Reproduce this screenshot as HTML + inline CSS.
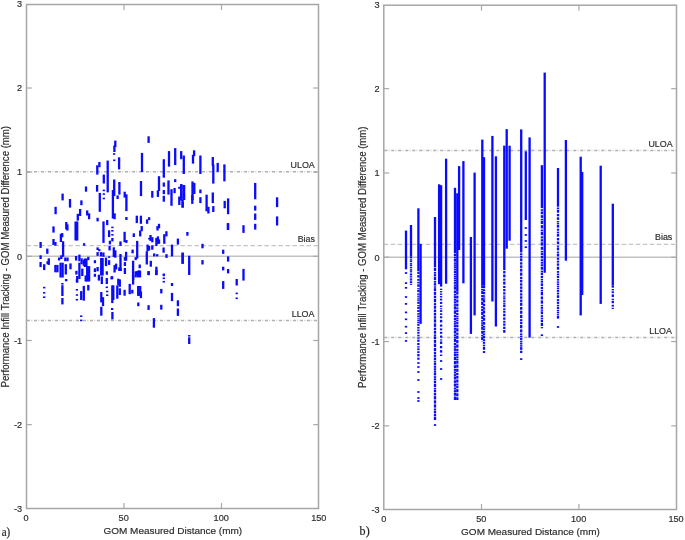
<!DOCTYPE html>
<html><head><meta charset="utf-8"><style>
html,body{margin:0;padding:0;background:#fff;}
svg{display:block;will-change:transform;}
text{font-family:"Liberation Sans", sans-serif;fill:#2e2e2e;stroke:#2e2e2e;stroke-width:0.18px;}
.t{font-size:8.7px;}
.u{font-size:8.45px;}
.xl{font-size:9.52px;}
.yl{font-size:9.6px;}
.pl{font-family:"Liberation Serif",serif;font-size:11.5px;fill:#222;}
</style></head><body>
<svg width="685" height="540" viewBox="0 0 685 540">
<rect width="685" height="540" fill="#fff"/>
<line x1="26.5" y1="256.33" x2="318.5" y2="256.33" stroke="#c2c2c2" stroke-width="1.5"/>
<line x1="26.5" y1="245.60" x2="318.5" y2="245.60" stroke="#c4c4c4" stroke-width="1.4" stroke-dasharray="4.4 2.6"/>
<line x1="26.5" y1="171.75" x2="318.5" y2="171.75" stroke="#b0b0b0" stroke-width="1.4" stroke-dasharray="0 0.4 3.1 3.5"/>
<line x1="26.5" y1="171.75" x2="318.5" y2="171.75" stroke="#d8d8d8" stroke-width="1.4" stroke-dasharray="0 4.5 1.3 1.2"/>
<line x1="26.5" y1="320.46" x2="318.5" y2="320.46" stroke="#b0b0b0" stroke-width="1.4" stroke-dasharray="0 0.4 3.1 3.5"/>
<line x1="26.5" y1="320.46" x2="318.5" y2="320.46" stroke="#d8d8d8" stroke-width="1.4" stroke-dasharray="0 4.5 1.3 1.2"/>
<g fill="#0a0aff">
<rect x="61.45" y="193.60" width="2.3" height="6.80"/>
<rect x="68.85" y="199.00" width="2.3" height="8.60"/>
<rect x="80.25" y="200.40" width="2.3" height="4.80"/>
<rect x="54.45" y="206.80" width="2.3" height="7.40"/>
<rect x="78.95" y="209.00" width="2.3" height="7.00"/>
<rect x="76.65" y="213.80" width="2.3" height="6.80"/>
<rect x="65.15" y="222.00" width="2.3" height="7.40"/>
<rect x="66.25" y="224.40" width="2.3" height="6.20"/>
<rect x="52.35" y="226.40" width="2.3" height="6.20"/>
<rect x="74.45" y="221.50" width="2.3" height="19.00"/>
<rect x="76.05" y="221.50" width="2.3" height="19.00"/>
<rect x="59.75" y="233.80" width="2.3" height="8.20"/>
<rect x="61.05" y="233.10" width="2.3" height="4.20"/>
<rect x="52.35" y="239.00" width="2.3" height="6.00"/>
<rect x="54.25" y="242.00" width="2.3" height="3.70"/>
<rect x="39.45" y="242.00" width="2.3" height="5.90"/>
<rect x="61.95" y="241.20" width="2.3" height="15.60"/>
<rect x="46.15" y="248.60" width="2.3" height="5.20"/>
<rect x="82.95" y="243.20" width="2.3" height="2.50"/>
<rect x="39.45" y="255.30" width="2.3" height="3.70"/>
<rect x="39.45" y="262.00" width="2.3" height="5.10"/>
<rect x="43.05" y="264.20" width="2.3" height="5.90"/>
<rect x="47.65" y="258.30" width="2.3" height="6.60"/>
<rect x="46.45" y="261.20" width="2.3" height="3.00"/>
<rect x="57.95" y="257.50" width="2.3" height="3.00"/>
<rect x="60.15" y="255.30" width="2.3" height="3.70"/>
<rect x="64.15" y="257.50" width="2.3" height="3.70"/>
<rect x="66.35" y="257.50" width="2.3" height="3.70"/>
<rect x="54.25" y="264.90" width="2.3" height="7.40"/>
<rect x="56.25" y="264.90" width="2.3" height="7.40"/>
<rect x="59.45" y="262.70" width="2.3" height="14.80"/>
<rect x="61.45" y="262.70" width="2.3" height="14.80"/>
<rect x="64.65" y="264.20" width="2.3" height="10.30"/>
<rect x="69.35" y="263.40" width="2.3" height="5.90"/>
<rect x="64.95" y="279.00" width="2.3" height="2.20"/>
<rect x="61.25" y="283.00" width="2.3" height="1.60"/>
<rect x="74.95" y="256.00" width="2.3" height="4.50"/>
<rect x="78.25" y="254.60" width="2.3" height="6.60"/>
<rect x="80.45" y="258.30" width="2.3" height="5.90"/>
<rect x="82.65" y="259.70" width="2.3" height="6.00"/>
<rect x="75.25" y="270.80" width="2.3" height="3.70"/>
<rect x="78.25" y="262.70" width="2.3" height="16.30"/>
<rect x="81.15" y="268.60" width="2.3" height="7.40"/>
<rect x="76.05" y="276.00" width="2.3" height="6.70"/>
<rect x="43.05" y="286.80" width="2.3" height="1.60"/>
<rect x="43.05" y="292.00" width="2.3" height="1.60"/>
<rect x="43.05" y="296.40" width="2.3" height="1.60"/>
<rect x="61.25" y="285.20" width="2.3" height="10.80"/>
<rect x="61.25" y="298.00" width="2.3" height="6.40"/>
<rect x="64.95" y="279.50" width="2.3" height="1.60"/>
<rect x="75.75" y="279.00" width="2.3" height="3.20"/>
<rect x="75.75" y="289.00" width="2.3" height="1.60"/>
<rect x="75.75" y="294.20" width="2.3" height="1.60"/>
<rect x="75.75" y="298.90" width="2.3" height="1.60"/>
<rect x="80.05" y="291.10" width="2.3" height="8.90"/>
<rect x="82.65" y="285.90" width="2.3" height="14.80"/>
<rect x="80.05" y="315.40" width="2.3" height="1.60"/>
<rect x="80.05" y="319.60" width="2.3" height="1.60"/>
<rect x="98.65" y="192.90" width="2.3" height="18.90"/>
<rect x="111.75" y="190.00" width="2.3" height="28.50"/>
<rect x="113.45" y="213.30" width="2.3" height="5.90"/>
<rect x="125.25" y="194.30" width="2.3" height="16.80"/>
<rect x="125.25" y="217.00" width="2.3" height="3.00"/>
<rect x="86.05" y="210.40" width="2.3" height="5.10"/>
<rect x="87.95" y="213.30" width="2.3" height="5.90"/>
<rect x="96.45" y="217.80" width="2.3" height="3.60"/>
<rect x="102.35" y="221.40" width="2.3" height="21.50"/>
<rect x="106.05" y="220.00" width="2.3" height="5.10"/>
<rect x="107.95" y="230.30" width="2.3" height="6.70"/>
<rect x="111.25" y="226.60" width="2.3" height="1.60"/>
<rect x="111.25" y="230.00" width="2.3" height="1.60"/>
<rect x="111.25" y="234.00" width="2.3" height="1.60"/>
<rect x="111.25" y="238.00" width="2.3" height="3.40"/>
<rect x="108.75" y="240.70" width="2.3" height="3.70"/>
<rect x="119.35" y="241.40" width="2.3" height="4.50"/>
<rect x="123.45" y="231.80" width="2.3" height="10.40"/>
<rect x="125.25" y="240.00" width="2.3" height="2.90"/>
<rect x="132.65" y="233.30" width="2.3" height="3.70"/>
<rect x="112.65" y="247.30" width="2.3" height="9.70"/>
<rect x="114.15" y="250.30" width="2.3" height="7.40"/>
<rect x="119.35" y="254.00" width="2.3" height="17.00"/>
<rect x="124.95" y="251.80" width="2.3" height="8.90"/>
<rect x="131.45" y="249.60" width="2.3" height="3.70"/>
<rect x="113.45" y="265.10" width="2.3" height="7.40"/>
<rect x="114.95" y="263.60" width="2.3" height="5.90"/>
<rect x="118.15" y="267.30" width="2.3" height="3.70"/>
<rect x="119.35" y="268.00" width="2.3" height="3.00"/>
<rect x="123.75" y="257.00" width="2.3" height="3.70"/>
<rect x="123.75" y="262.10" width="2.3" height="3.90"/>
<rect x="123.75" y="268.00" width="2.3" height="6.00"/>
<rect x="131.95" y="260.70" width="2.3" height="19.30"/>
<rect x="110.95" y="276.20" width="2.3" height="2.90"/>
<rect x="114.15" y="140.60" width="2.3" height="6.40"/>
<rect x="113.25" y="145.50" width="2.3" height="6.50"/>
<rect x="112.95" y="153.20" width="2.3" height="1.60"/>
<rect x="113.15" y="159.50" width="2.3" height="1.60"/>
<rect x="117.95" y="157.30" width="2.3" height="12.10"/>
<rect x="140.85" y="152.90" width="2.3" height="19.20"/>
<rect x="106.55" y="160.60" width="2.3" height="31.80"/>
<rect x="98.25" y="162.00" width="2.3" height="5.20"/>
<rect x="96.15" y="165.30" width="2.3" height="9.30"/>
<rect x="102.65" y="174.60" width="2.3" height="8.90"/>
<rect x="95.95" y="185.00" width="2.3" height="6.70"/>
<rect x="84.85" y="186.50" width="2.3" height="5.20"/>
<rect x="102.65" y="189.60" width="2.3" height="1.60"/>
<rect x="102.65" y="193.30" width="2.3" height="1.60"/>
<rect x="102.65" y="197.70" width="2.3" height="1.60"/>
<rect x="113.05" y="179.50" width="2.3" height="16.60"/>
<rect x="118.25" y="182.00" width="2.3" height="12.60"/>
<rect x="116.45" y="195.40" width="2.3" height="3.60"/>
<rect x="123.55" y="191.70" width="2.3" height="5.90"/>
<rect x="139.85" y="181.00" width="2.3" height="15.10"/>
<rect x="106.05" y="290.70" width="2.3" height="1.60"/>
<rect x="106.05" y="294.40" width="2.3" height="1.60"/>
<rect x="110.45" y="276.50" width="2.3" height="2.90"/>
<rect x="111.15" y="285.40" width="2.3" height="17.70"/>
<rect x="112.15" y="285.40" width="2.3" height="14.60"/>
<rect x="110.95" y="308.00" width="2.3" height="2.00"/>
<rect x="111.25" y="312.00" width="2.3" height="7.40"/>
<rect x="100.15" y="292.00" width="2.3" height="10.40"/>
<rect x="101.85" y="297.20" width="2.3" height="8.90"/>
<rect x="100.15" y="306.80" width="2.3" height="8.90"/>
<rect x="117.15" y="278.70" width="2.3" height="6.70"/>
<rect x="118.65" y="279.40" width="2.3" height="7.40"/>
<rect x="116.15" y="285.40" width="2.3" height="13.30"/>
<rect x="118.65" y="288.30" width="2.3" height="6.70"/>
<rect x="123.45" y="289.80" width="2.3" height="5.90"/>
<rect x="128.55" y="283.90" width="2.3" height="10.30"/>
<rect x="131.15" y="289.80" width="2.3" height="3.70"/>
<rect x="131.95" y="275.00" width="2.3" height="9.60"/>
<rect x="147.45" y="136.30" width="2.3" height="6.60"/>
<rect x="151.15" y="191.00" width="2.3" height="6.70"/>
<rect x="156.75" y="190.30" width="2.3" height="6.60"/>
<rect x="157.85" y="176.20" width="2.3" height="14.80"/>
<rect x="162.65" y="159.20" width="2.3" height="18.50"/>
<rect x="162.65" y="182.50" width="2.3" height="4.20"/>
<rect x="162.65" y="190.00" width="2.3" height="4.20"/>
<rect x="162.65" y="195.80" width="2.3" height="4.20"/>
<rect x="167.85" y="151.10" width="2.3" height="15.50"/>
<rect x="167.35" y="180.40" width="2.3" height="14.20"/>
<rect x="174.05" y="148.10" width="2.3" height="17.00"/>
<rect x="174.05" y="179.20" width="2.3" height="2.90"/>
<rect x="173.45" y="188.00" width="2.3" height="5.20"/>
<rect x="180.05" y="151.10" width="2.3" height="8.10"/>
<rect x="182.65" y="155.50" width="2.3" height="18.50"/>
<rect x="178.15" y="186.80" width="2.3" height="2.00"/>
<rect x="178.15" y="196.50" width="2.3" height="8.50"/>
<rect x="180.35" y="184.20" width="2.3" height="16.60"/>
<rect x="182.75" y="185.00" width="2.3" height="3.80"/>
<rect x="182.75" y="193.30" width="2.3" height="6.30"/>
<rect x="162.65" y="200.00" width="2.3" height="1.70"/>
<rect x="170.35" y="189.20" width="2.3" height="16.60"/>
<rect x="181.45" y="200.00" width="2.3" height="7.60"/>
<rect x="135.65" y="215.70" width="2.3" height="7.40"/>
<rect x="139.75" y="215.70" width="2.3" height="8.10"/>
<rect x="145.95" y="219.40" width="2.3" height="4.40"/>
<rect x="147.95" y="217.20" width="2.3" height="2.90"/>
<rect x="140.55" y="226.10" width="2.3" height="5.10"/>
<rect x="139.05" y="230.50" width="2.3" height="5.90"/>
<rect x="156.35" y="226.10" width="2.3" height="4.40"/>
<rect x="157.85" y="223.80" width="2.3" height="4.50"/>
<rect x="165.25" y="231.20" width="2.3" height="5.20"/>
<rect x="163.15" y="234.20" width="2.3" height="9.60"/>
<rect x="149.35" y="235.00" width="2.3" height="5.90"/>
<rect x="148.15" y="237.90" width="2.3" height="1.60"/>
<rect x="151.15" y="237.20" width="2.3" height="5.10"/>
<rect x="155.25" y="237.90" width="2.3" height="8.10"/>
<rect x="156.75" y="236.40" width="2.3" height="7.40"/>
<rect x="157.85" y="239.40" width="2.3" height="4.40"/>
<rect x="176.75" y="238.60" width="2.3" height="6.00"/>
<rect x="136.05" y="240.90" width="2.3" height="17.70"/>
<rect x="146.45" y="244.60" width="2.3" height="6.60"/>
<rect x="147.95" y="246.00" width="2.3" height="4.50"/>
<rect x="151.15" y="245.30" width="2.3" height="4.40"/>
<rect x="162.45" y="247.50" width="2.3" height="5.20"/>
<rect x="170.85" y="244.60" width="2.3" height="11.80"/>
<rect x="145.65" y="251.20" width="2.3" height="13.30"/>
<rect x="153.05" y="253.40" width="2.3" height="3.00"/>
<rect x="156.05" y="254.20" width="2.3" height="2.20"/>
<rect x="165.35" y="254.20" width="2.3" height="3.70"/>
<rect x="181.45" y="252.70" width="2.3" height="11.10"/>
<rect x="134.55" y="257.10" width="2.3" height="3.00"/>
<rect x="149.65" y="260.80" width="2.3" height="5.90"/>
<rect x="138.55" y="264.50" width="2.3" height="3.70"/>
<rect x="155.25" y="266.70" width="2.3" height="8.30"/>
<rect x="135.35" y="271.20" width="2.3" height="3.80"/>
<rect x="137.95" y="270.40" width="2.3" height="4.60"/>
<rect x="147.45" y="271.20" width="2.3" height="3.80"/>
<rect x="162.65" y="273.50" width="2.3" height="1.60"/>
<rect x="134.55" y="271.50" width="2.3" height="5.90"/>
<rect x="136.85" y="270.70" width="2.3" height="6.70"/>
<rect x="138.85" y="270.70" width="2.3" height="6.70"/>
<rect x="147.45" y="271.20" width="2.3" height="4.00"/>
<rect x="155.25" y="270.00" width="2.3" height="5.20"/>
<rect x="162.65" y="274.60" width="2.3" height="1.60"/>
<rect x="162.65" y="277.50" width="2.3" height="1.60"/>
<rect x="162.65" y="280.90" width="2.3" height="1.60"/>
<rect x="170.85" y="283.00" width="2.3" height="3.00"/>
<rect x="137.05" y="286.00" width="2.3" height="9.90"/>
<rect x="139.05" y="286.00" width="2.3" height="9.90"/>
<rect x="139.75" y="291.40" width="2.3" height="6.70"/>
<rect x="160.15" y="288.90" width="2.3" height="4.50"/>
<rect x="170.85" y="292.90" width="2.3" height="8.20"/>
<rect x="137.15" y="302.50" width="2.3" height="3.70"/>
<rect x="147.45" y="305.20" width="2.3" height="4.70"/>
<rect x="160.15" y="304.80" width="2.3" height="4.80"/>
<rect x="176.75" y="300.30" width="2.3" height="5.90"/>
<rect x="176.75" y="308.50" width="2.3" height="7.40"/>
<rect x="152.75" y="318.10" width="2.3" height="9.60"/>
<rect x="192.95" y="150.30" width="2.3" height="5.90"/>
<rect x="191.85" y="154.80" width="2.3" height="8.80"/>
<rect x="199.25" y="155.50" width="2.3" height="18.50"/>
<rect x="211.65" y="157.00" width="2.3" height="8.90"/>
<rect x="212.15" y="164.40" width="2.3" height="19.20"/>
<rect x="216.55" y="162.90" width="2.3" height="8.90"/>
<rect x="223.25" y="164.40" width="2.3" height="17.00"/>
<rect x="180.05" y="184.30" width="2.3" height="15.70"/>
<rect x="182.95" y="185.10" width="2.3" height="14.90"/>
<rect x="191.35" y="181.40" width="2.3" height="18.60"/>
<rect x="193.15" y="182.90" width="2.3" height="11.10"/>
<rect x="199.25" y="189.50" width="2.3" height="3.70"/>
<rect x="181.55" y="201.70" width="2.3" height="5.90"/>
<rect x="191.15" y="195.00" width="2.3" height="8.90"/>
<rect x="199.25" y="197.20" width="2.3" height="5.90"/>
<rect x="205.45" y="194.70" width="2.3" height="16.60"/>
<rect x="207.25" y="206.80" width="2.3" height="6.70"/>
<rect x="211.65" y="192.50" width="2.3" height="10.60"/>
<rect x="212.15" y="206.10" width="2.3" height="5.90"/>
<rect x="223.55" y="200.90" width="2.3" height="7.40"/>
<rect x="226.95" y="198.40" width="2.3" height="15.80"/>
<rect x="226.95" y="223.10" width="2.3" height="6.70"/>
<rect x="186.25" y="232.00" width="2.3" height="3.70"/>
<rect x="201.35" y="243.80" width="2.3" height="4.50"/>
<rect x="222.05" y="249.70" width="2.3" height="4.20"/>
<rect x="181.55" y="252.70" width="2.3" height="11.10"/>
<rect x="188.05" y="255.70" width="2.3" height="19.30"/>
<rect x="201.35" y="260.10" width="2.3" height="4.40"/>
<rect x="226.95" y="256.40" width="2.3" height="5.20"/>
<rect x="222.05" y="266.70" width="2.3" height="3.70"/>
<rect x="226.95" y="269.00" width="2.3" height="4.40"/>
<rect x="222.05" y="281.10" width="2.3" height="7.80"/>
<rect x="188.05" y="335.00" width="2.3" height="1.60"/>
<rect x="188.05" y="337.30" width="2.3" height="6.70"/>
<rect x="226.75" y="223.20" width="2.3" height="6.80"/>
<rect x="242.35" y="225.20" width="2.3" height="7.70"/>
<rect x="254.05" y="182.90" width="2.3" height="16.40"/>
<rect x="254.05" y="205.70" width="2.3" height="4.90"/>
<rect x="254.05" y="213.50" width="2.3" height="6.40"/>
<rect x="254.05" y="223.80" width="2.3" height="5.80"/>
<rect x="275.95" y="197.30" width="2.3" height="9.80"/>
<rect x="275.95" y="216.40" width="2.3" height="9.10"/>
<rect x="242.35" y="268.90" width="2.3" height="11.70"/>
<rect x="235.55" y="279.00" width="2.3" height="6.50"/>
<rect x="235.55" y="292.60" width="2.3" height="1.60"/>
<rect x="235.55" y="297.50" width="2.3" height="1.60"/>
<rect x="96.45" y="247.40" width="2.3" height="2.60"/>
<rect x="96.45" y="252.10" width="2.3" height="3.80"/>
<rect x="98.15" y="249.10" width="2.3" height="2.10"/>
<rect x="99.85" y="252.10" width="2.3" height="4.30"/>
<rect x="102.25" y="252.50" width="2.3" height="4.30"/>
<rect x="100.05" y="258.00" width="2.3" height="17.50"/>
<rect x="101.45" y="258.00" width="2.3" height="17.50"/>
<rect x="100.65" y="276.40" width="2.3" height="7.60"/>
<rect x="97.75" y="274.70" width="2.3" height="5.90"/>
<rect x="96.45" y="267.00" width="2.3" height="4.30"/>
<rect x="93.75" y="260.20" width="2.3" height="3.00"/>
<rect x="93.75" y="268.30" width="2.3" height="3.80"/>
<rect x="93.75" y="273.80" width="2.3" height="3.00"/>
<rect x="104.85" y="257.60" width="2.3" height="8.50"/>
<rect x="105.65" y="271.30" width="2.3" height="3.40"/>
<rect x="105.65" y="278.00" width="2.3" height="6.00"/>
<rect x="105.65" y="286.50" width="2.3" height="1.60"/>
<rect x="107.95" y="256.30" width="2.3" height="1.60"/>
<rect x="107.95" y="260.20" width="2.3" height="4.70"/>
<rect x="108.45" y="245.70" width="2.3" height="4.70"/>
<rect x="87.15" y="256.80" width="2.3" height="3.40"/>
<rect x="83.75" y="258.50" width="2.3" height="8.50"/>
<rect x="85.25" y="258.50" width="2.3" height="8.50"/>
<rect x="86.05" y="266.10" width="2.3" height="15.40"/>
<rect x="87.95" y="266.10" width="2.3" height="15.40"/>
<rect x="84.55" y="275.50" width="2.3" height="6.00"/>
<rect x="87.15" y="284.90" width="2.3" height="5.60"/>
</g>
<rect x="26.5" y="4.5" width="292.00" height="504.00" fill="none" stroke="#a6a6a6" stroke-width="1.5"/>
<text class="t" transform="translate(22.20,512.11) scale(1.05,1)" text-anchor="end">-3</text>
<line x1="26.5" y1="424.65" x2="31.8" y2="424.65" stroke="#a8a8a8" stroke-width="1.2"/>
<line x1="318.5" y1="424.65" x2="313.2" y2="424.65" stroke="#a8a8a8" stroke-width="1.2"/>
<text class="t" transform="translate(22.20,427.95) scale(1.05,1)" text-anchor="end">-2</text>
<line x1="26.5" y1="340.49" x2="31.8" y2="340.49" stroke="#a8a8a8" stroke-width="1.2"/>
<line x1="318.5" y1="340.49" x2="313.2" y2="340.49" stroke="#a8a8a8" stroke-width="1.2"/>
<text class="t" transform="translate(22.20,343.79) scale(1.05,1)" text-anchor="end">-1</text>
<line x1="26.5" y1="256.33" x2="31.8" y2="256.33" stroke="#a8a8a8" stroke-width="1.2"/>
<line x1="318.5" y1="256.33" x2="313.2" y2="256.33" stroke="#a8a8a8" stroke-width="1.2"/>
<text class="t" transform="translate(22.20,259.63) scale(1.05,1)" text-anchor="end">0</text>
<line x1="26.5" y1="172.17" x2="31.8" y2="172.17" stroke="#a8a8a8" stroke-width="1.2"/>
<line x1="318.5" y1="172.17" x2="313.2" y2="172.17" stroke="#a8a8a8" stroke-width="1.2"/>
<text class="t" transform="translate(22.20,175.47) scale(1.05,1)" text-anchor="end">1</text>
<line x1="26.5" y1="88.01" x2="31.8" y2="88.01" stroke="#a8a8a8" stroke-width="1.2"/>
<line x1="318.5" y1="88.01" x2="313.2" y2="88.01" stroke="#a8a8a8" stroke-width="1.2"/>
<text class="t" transform="translate(22.20,91.31) scale(1.05,1)" text-anchor="end">2</text>
<text class="t" transform="translate(22.20,7.15) scale(1.05,1)" text-anchor="end">3</text>
<text class="t" transform="translate(26.08,520.90) scale(1.05,1)" text-anchor="middle">0</text>
<line x1="123.94" y1="508.5" x2="123.94" y2="503.0" stroke="#a8a8a8" stroke-width="1.2"/>
<line x1="123.94" y1="4.5" x2="123.94" y2="10.0" stroke="#a8a8a8" stroke-width="1.2"/>
<text class="t" transform="translate(123.64,520.90) scale(1.05,1)" text-anchor="middle">50</text>
<line x1="221.50" y1="508.5" x2="221.50" y2="503.0" stroke="#a8a8a8" stroke-width="1.2"/>
<line x1="221.50" y1="4.5" x2="221.50" y2="10.0" stroke="#a8a8a8" stroke-width="1.2"/>
<text class="t" transform="translate(221.20,520.90) scale(1.05,1)" text-anchor="middle">100</text>
<text class="t" transform="translate(318.76,520.90) scale(1.05,1)" text-anchor="middle">150</text>
<text class="u" transform="translate(314.70,168.10) scale(1.05,1)" text-anchor="end">ULOA</text>
<text class="u" transform="translate(314.90,242.40) scale(1.05,1)" text-anchor="end">Bias</text>
<text class="u" transform="translate(314.40,316.70) scale(1.05,1)" text-anchor="end">LLOA</text>
<text class="xl" transform="translate(172.80,533.60) scale(1.05,1)" text-anchor="middle">GOM Measured Distance (mm)</text>
<text class="yl" transform="translate(8.70,256.70) scale(1.05,1) rotate(-90)" text-anchor="middle">Performance Infill Tracking - GOM Measured Difference (mm)</text>
<line x1="383.8" y1="257.26" x2="676.5" y2="257.26" stroke="#c2c2c2" stroke-width="1.5"/>
<line x1="383.8" y1="244.40" x2="676.5" y2="244.40" stroke="#c4c4c4" stroke-width="1.4" stroke-dasharray="4.4 2.6"/>
<line x1="383.8" y1="150.47" x2="676.5" y2="150.47" stroke="#b0b0b0" stroke-width="1.4" stroke-dasharray="0 0.4 3.1 3.5"/>
<line x1="383.8" y1="150.47" x2="676.5" y2="150.47" stroke="#d8d8d8" stroke-width="1.4" stroke-dasharray="0 4.5 1.3 1.2"/>
<line x1="383.8" y1="337.50" x2="676.5" y2="337.50" stroke="#b0b0b0" stroke-width="1.4" stroke-dasharray="0 0.4 3.1 3.5"/>
<line x1="383.8" y1="337.50" x2="676.5" y2="337.50" stroke="#d8d8d8" stroke-width="1.4" stroke-dasharray="0 4.5 1.3 1.2"/>
<g fill="#0a0aff">
<rect x="404.85" y="230.60" width="2.3" height="38.70"/>
<rect x="404.85" y="272.15" width="2.3" height="1.7"/>
<rect x="404.85" y="282.25" width="2.3" height="1.7"/>
<rect x="404.85" y="286.95" width="2.3" height="1.7"/>
<rect x="404.85" y="296.15" width="2.3" height="1.7"/>
<rect x="404.85" y="303.05" width="2.3" height="1.7"/>
<rect x="404.85" y="311.55" width="2.3" height="1.7"/>
<rect x="404.85" y="318.45" width="2.3" height="1.7"/>
<rect x="404.85" y="325.85" width="2.3" height="1.7"/>
<rect x="404.85" y="332.25" width="2.3" height="1.7"/>
<rect x="404.85" y="340.05" width="2.3" height="1.7"/>
<rect x="409.85" y="225.00" width="2.3" height="31.70"/>
<rect x="409.85" y="256.70" width="2.3" height="1.37"/>
<rect x="409.85" y="258.66" width="2.3" height="1.13"/>
<rect x="409.85" y="260.28" width="2.3" height="1.83"/>
<rect x="409.85" y="262.89" width="2.3" height="1.02"/>
<rect x="409.85" y="264.35" width="2.3" height="1.67"/>
<rect x="409.85" y="266.73" width="2.3" height="1.43"/>
<rect x="409.85" y="268.78" width="2.3" height="1.00"/>
<rect x="409.85" y="270.21" width="2.3" height="1.63"/>
<rect x="409.85" y="272.54" width="2.3" height="0.98"/>
<rect x="409.85" y="273.93" width="2.3" height="1.53"/>
<rect x="409.85" y="276.11" width="2.3" height="1.02"/>
<rect x="409.85" y="277.57" width="2.3" height="1.05"/>
<rect x="409.85" y="279.07" width="2.3" height="1.51"/>
<rect x="409.85" y="281.23" width="2.3" height="2.07"/>
<rect x="409.85" y="284.19" width="2.3" height="0.81"/>
<rect x="417.25" y="208.30" width="2.3" height="61.70"/>
<rect x="417.25" y="270.00" width="2.3" height="1.35"/>
<rect x="417.25" y="272.08" width="2.3" height="1.97"/>
<rect x="417.25" y="275.11" width="2.3" height="2.46"/>
<rect x="417.25" y="278.89" width="2.3" height="1.89"/>
<rect x="417.25" y="281.80" width="2.3" height="1.62"/>
<rect x="417.25" y="284.29" width="2.3" height="2.50"/>
<rect x="417.25" y="288.13" width="2.3" height="1.08"/>
<rect x="417.25" y="289.80" width="2.3" height="2.32"/>
<rect x="417.25" y="293.37" width="2.3" height="1.45"/>
<rect x="417.25" y="295.61" width="2.3" height="1.23"/>
<rect x="417.25" y="297.50" width="2.3" height="1.19"/>
<rect x="417.25" y="299.34" width="2.3" height="1.48"/>
<rect x="417.25" y="301.62" width="2.3" height="2.26"/>
<rect x="417.25" y="305.09" width="2.3" height="1.29"/>
<rect x="417.25" y="307.07" width="2.3" height="1.90"/>
<rect x="417.25" y="310.00" width="2.3" height="1.99"/>
<rect x="417.25" y="313.05" width="2.3" height="1.58"/>
<rect x="417.25" y="315.48" width="2.3" height="1.85"/>
<rect x="417.25" y="318.32" width="2.3" height="1.11"/>
<rect x="417.25" y="320.03" width="2.3" height="1.10"/>
<rect x="417.25" y="321.73" width="2.3" height="1.33"/>
<rect x="417.25" y="323.77" width="2.3" height="2.05"/>
<rect x="417.25" y="326.92" width="2.3" height="1.66"/>
<rect x="417.25" y="329.48" width="2.3" height="1.49"/>
<rect x="417.25" y="331.78" width="2.3" height="1.90"/>
<rect x="417.25" y="334.71" width="2.3" height="1.70"/>
<rect x="417.25" y="337.33" width="2.3" height="1.47"/>
<rect x="417.25" y="339.59" width="2.3" height="2.22"/>
<rect x="417.25" y="343.01" width="2.3" height="2.08"/>
<rect x="417.25" y="346.21" width="2.3" height="1.39"/>
<rect x="417.25" y="348.34" width="2.3" height="1.89"/>
<rect x="417.25" y="351.24" width="2.3" height="1.81"/>
<rect x="417.25" y="354.03" width="2.3" height="2.35"/>
<rect x="417.25" y="357.64" width="2.3" height="2.12"/>
<rect x="417.25" y="362.15" width="2.3" height="1.7"/>
<rect x="417.25" y="366.15" width="2.3" height="1.7"/>
<rect x="417.25" y="371.15" width="2.3" height="1.7"/>
<rect x="417.25" y="379.15" width="2.3" height="1.7"/>
<rect x="417.25" y="391.15" width="2.3" height="1.7"/>
<rect x="417.25" y="397.15" width="2.3" height="1.7"/>
<rect x="417.25" y="400.15" width="2.3" height="1.7"/>
<rect x="419.45" y="243.90" width="2.3" height="80.00"/>
<rect x="433.85" y="217.00" width="2.3" height="48.00"/>
<rect x="433.85" y="265.00" width="2.3" height="2.06"/>
<rect x="433.85" y="267.58" width="2.3" height="3.56"/>
<rect x="433.85" y="272.02" width="2.3" height="1.70"/>
<rect x="433.85" y="274.14" width="2.3" height="2.34"/>
<rect x="433.85" y="277.07" width="2.3" height="3.08"/>
<rect x="433.85" y="280.92" width="2.3" height="1.77"/>
<rect x="433.85" y="283.13" width="2.3" height="2.50"/>
<rect x="433.85" y="286.25" width="2.3" height="1.52"/>
<rect x="433.85" y="288.15" width="2.3" height="2.88"/>
<rect x="433.85" y="291.76" width="2.3" height="3.09"/>
<rect x="433.85" y="295.62" width="2.3" height="2.68"/>
<rect x="433.85" y="298.97" width="2.3" height="3.33"/>
<rect x="433.85" y="303.13" width="2.3" height="2.12"/>
<rect x="433.85" y="305.78" width="2.3" height="2.94"/>
<rect x="433.85" y="309.46" width="2.3" height="2.72"/>
<rect x="433.85" y="312.86" width="2.3" height="2.69"/>
<rect x="433.85" y="316.23" width="2.3" height="2.43"/>
<rect x="433.85" y="319.26" width="2.3" height="3.25"/>
<rect x="433.85" y="323.33" width="2.3" height="3.48"/>
<rect x="433.85" y="327.68" width="2.3" height="2.46"/>
<rect x="433.85" y="330.76" width="2.3" height="2.87"/>
<rect x="433.85" y="334.35" width="2.3" height="1.57"/>
<rect x="433.85" y="336.31" width="2.3" height="2.96"/>
<rect x="433.85" y="340.01" width="2.3" height="2.84"/>
<rect x="433.85" y="343.56" width="2.3" height="3.59"/>
<rect x="433.85" y="348.04" width="2.3" height="3.22"/>
<rect x="433.85" y="352.06" width="2.3" height="2.05"/>
<rect x="433.85" y="354.62" width="2.3" height="2.27"/>
<rect x="433.85" y="357.47" width="2.3" height="2.88"/>
<rect x="433.85" y="361.07" width="2.3" height="1.49"/>
<rect x="433.85" y="362.93" width="2.3" height="2.44"/>
<rect x="433.85" y="365.98" width="2.3" height="1.80"/>
<rect x="433.85" y="368.23" width="2.3" height="1.69"/>
<rect x="433.85" y="370.35" width="2.3" height="1.57"/>
<rect x="433.85" y="372.31" width="2.3" height="3.10"/>
<rect x="433.85" y="376.18" width="2.3" height="1.72"/>
<rect x="433.85" y="378.33" width="2.3" height="1.97"/>
<rect x="433.85" y="380.80" width="2.3" height="2.28"/>
<rect x="433.85" y="383.66" width="2.3" height="3.32"/>
<rect x="433.85" y="387.81" width="2.3" height="1.61"/>
<rect x="433.85" y="389.83" width="2.3" height="2.41"/>
<rect x="433.85" y="392.84" width="2.3" height="2.63"/>
<rect x="433.85" y="396.12" width="2.3" height="3.35"/>
<rect x="433.85" y="400.31" width="2.3" height="3.21"/>
<rect x="433.85" y="404.32" width="2.3" height="3.31"/>
<rect x="433.85" y="408.45" width="2.3" height="2.04"/>
<rect x="433.85" y="411.00" width="2.3" height="2.34"/>
<rect x="433.85" y="413.93" width="2.3" height="2.21"/>
<rect x="433.85" y="416.69" width="2.3" height="3.35"/>
<rect x="433.85" y="424.15" width="2.3" height="1.7"/>
<rect x="437.95" y="184.30" width="2.3" height="99.80"/>
<rect x="439.95" y="185.20" width="2.3" height="98.90"/>
<rect x="439.95" y="284.00" width="2.3" height="2.57"/>
<rect x="439.95" y="288.68" width="2.3" height="1.30"/>
<rect x="439.95" y="291.03" width="2.3" height="1.34"/>
<rect x="439.95" y="293.46" width="2.3" height="1.42"/>
<rect x="439.95" y="296.05" width="2.3" height="1.43"/>
<rect x="439.95" y="298.64" width="2.3" height="1.82"/>
<rect x="439.95" y="301.96" width="2.3" height="1.99"/>
<rect x="439.95" y="305.57" width="2.3" height="1.47"/>
<rect x="439.95" y="308.25" width="2.3" height="1.06"/>
<rect x="439.95" y="310.18" width="2.3" height="1.72"/>
<rect x="439.95" y="313.31" width="2.3" height="1.64"/>
<rect x="439.95" y="316.29" width="2.3" height="1.95"/>
<rect x="439.95" y="319.84" width="2.3" height="2.57"/>
<rect x="439.95" y="324.51" width="2.3" height="2.15"/>
<rect x="439.95" y="328.42" width="2.3" height="1.87"/>
<rect x="439.95" y="331.82" width="2.3" height="2.03"/>
<rect x="439.95" y="335.52" width="2.3" height="2.13"/>
<rect x="439.95" y="339.39" width="2.3" height="1.14"/>
<rect x="439.95" y="341.46" width="2.3" height="2.48"/>
<rect x="439.95" y="345.97" width="2.3" height="2.29"/>
<rect x="439.95" y="350.14" width="2.3" height="2.44"/>
<rect x="439.95" y="354.58" width="2.3" height="1.42"/>
<rect x="439.95" y="360.15" width="2.3" height="1.7"/>
<rect x="439.95" y="368.15" width="2.3" height="1.7"/>
<rect x="439.95" y="378.15" width="2.3" height="1.7"/>
<rect x="444.95" y="158.70" width="2.3" height="125.00"/>
<rect x="453.85" y="187.80" width="2.3" height="63.20"/>
<rect x="453.85" y="251.00" width="2.3" height="2.29"/>
<rect x="453.85" y="253.86" width="2.3" height="2.30"/>
<rect x="453.85" y="256.74" width="2.3" height="1.66"/>
<rect x="453.85" y="258.82" width="2.3" height="2.81"/>
<rect x="453.85" y="262.33" width="2.3" height="1.57"/>
<rect x="453.85" y="264.30" width="2.3" height="1.59"/>
<rect x="453.85" y="266.28" width="2.3" height="1.89"/>
<rect x="453.85" y="268.64" width="2.3" height="1.79"/>
<rect x="453.85" y="270.88" width="2.3" height="2.17"/>
<rect x="453.85" y="273.60" width="2.3" height="1.55"/>
<rect x="453.85" y="275.54" width="2.3" height="1.44"/>
<rect x="453.85" y="277.34" width="2.3" height="1.77"/>
<rect x="453.85" y="279.55" width="2.3" height="1.66"/>
<rect x="453.85" y="281.62" width="2.3" height="2.23"/>
<rect x="453.85" y="284.41" width="2.3" height="1.50"/>
<rect x="453.85" y="286.27" width="2.3" height="3.33"/>
<rect x="453.85" y="290.43" width="2.3" height="2.77"/>
<rect x="453.85" y="293.89" width="2.3" height="1.76"/>
<rect x="453.85" y="296.09" width="2.3" height="1.98"/>
<rect x="453.85" y="298.58" width="2.3" height="2.19"/>
<rect x="453.85" y="301.31" width="2.3" height="2.23"/>
<rect x="453.85" y="304.10" width="2.3" height="1.71"/>
<rect x="453.85" y="306.23" width="2.3" height="3.27"/>
<rect x="453.85" y="310.32" width="2.3" height="3.59"/>
<rect x="453.85" y="314.80" width="2.3" height="2.45"/>
<rect x="453.85" y="317.86" width="2.3" height="2.49"/>
<rect x="453.85" y="320.97" width="2.3" height="1.63"/>
<rect x="453.85" y="323.00" width="2.3" height="1.66"/>
<rect x="453.85" y="325.07" width="2.3" height="2.18"/>
<rect x="453.85" y="327.80" width="2.3" height="2.01"/>
<rect x="453.85" y="330.31" width="2.3" height="3.23"/>
<rect x="453.85" y="334.35" width="2.3" height="1.79"/>
<rect x="453.85" y="336.59" width="2.3" height="1.49"/>
<rect x="453.85" y="338.45" width="2.3" height="3.49"/>
<rect x="453.85" y="342.82" width="2.3" height="2.58"/>
<rect x="453.85" y="346.04" width="2.3" height="1.76"/>
<rect x="453.85" y="348.24" width="2.3" height="2.61"/>
<rect x="453.85" y="351.51" width="2.3" height="1.50"/>
<rect x="453.85" y="353.38" width="2.3" height="2.58"/>
<rect x="453.85" y="356.61" width="2.3" height="3.55"/>
<rect x="453.85" y="361.05" width="2.3" height="3.30"/>
<rect x="453.85" y="365.18" width="2.3" height="2.94"/>
<rect x="453.85" y="368.86" width="2.3" height="2.00"/>
<rect x="453.85" y="371.36" width="2.3" height="2.23"/>
<rect x="453.85" y="374.15" width="2.3" height="1.80"/>
<rect x="453.85" y="376.40" width="2.3" height="3.11"/>
<rect x="453.85" y="380.29" width="2.3" height="2.59"/>
<rect x="453.85" y="383.53" width="2.3" height="3.12"/>
<rect x="453.85" y="387.43" width="2.3" height="2.15"/>
<rect x="453.85" y="390.12" width="2.3" height="1.92"/>
<rect x="453.85" y="392.52" width="2.3" height="3.19"/>
<rect x="453.85" y="396.51" width="2.3" height="3.49"/>
<rect x="456.15" y="193.30" width="2.3" height="98.20"/>
<rect x="456.15" y="291.50" width="2.3" height="3.08"/>
<rect x="456.15" y="295.60" width="2.3" height="2.98"/>
<rect x="456.15" y="299.58" width="2.3" height="3.01"/>
<rect x="456.15" y="303.59" width="2.3" height="2.85"/>
<rect x="456.15" y="307.39" width="2.3" height="1.81"/>
<rect x="456.15" y="309.80" width="2.3" height="2.40"/>
<rect x="456.15" y="313.00" width="2.3" height="2.07"/>
<rect x="456.15" y="315.76" width="2.3" height="1.41"/>
<rect x="456.15" y="317.63" width="2.3" height="1.41"/>
<rect x="456.15" y="319.51" width="2.3" height="1.92"/>
<rect x="456.15" y="322.06" width="2.3" height="1.87"/>
<rect x="456.15" y="324.56" width="2.3" height="2.75"/>
<rect x="456.15" y="328.23" width="2.3" height="3.29"/>
<rect x="456.15" y="332.62" width="2.3" height="2.26"/>
<rect x="456.15" y="335.62" width="2.3" height="3.25"/>
<rect x="456.15" y="339.95" width="2.3" height="3.35"/>
<rect x="456.15" y="344.42" width="2.3" height="3.28"/>
<rect x="456.15" y="348.80" width="2.3" height="2.09"/>
<rect x="456.15" y="351.58" width="2.3" height="1.80"/>
<rect x="456.15" y="353.98" width="2.3" height="1.81"/>
<rect x="456.15" y="356.39" width="2.3" height="1.75"/>
<rect x="456.15" y="358.72" width="2.3" height="1.76"/>
<rect x="456.15" y="361.07" width="2.3" height="2.61"/>
<rect x="456.15" y="364.56" width="2.3" height="3.17"/>
<rect x="456.15" y="368.79" width="2.3" height="3.05"/>
<rect x="456.15" y="372.86" width="2.3" height="2.32"/>
<rect x="456.15" y="375.95" width="2.3" height="2.67"/>
<rect x="456.15" y="379.52" width="2.3" height="2.97"/>
<rect x="456.15" y="383.48" width="2.3" height="1.52"/>
<rect x="456.15" y="385.51" width="2.3" height="2.69"/>
<rect x="456.15" y="389.09" width="2.3" height="3.19"/>
<rect x="456.15" y="393.35" width="2.3" height="2.93"/>
<rect x="456.15" y="397.26" width="2.3" height="2.74"/>
<rect x="457.95" y="166.10" width="2.3" height="83.90"/>
<rect x="462.25" y="161.10" width="2.3" height="122.20"/>
<rect x="469.75" y="237.00" width="2.3" height="96.90"/>
<rect x="473.45" y="172.60" width="2.3" height="142.80"/>
<rect x="481.15" y="139.60" width="2.3" height="146.10"/>
<rect x="481.15" y="285.70" width="2.3" height="2.32"/>
<rect x="481.15" y="288.79" width="2.3" height="1.71"/>
<rect x="481.15" y="291.07" width="2.3" height="2.95"/>
<rect x="481.15" y="295.00" width="2.3" height="2.02"/>
<rect x="481.15" y="297.70" width="2.3" height="2.97"/>
<rect x="481.15" y="301.66" width="2.3" height="3.32"/>
<rect x="481.15" y="306.09" width="2.3" height="2.15"/>
<rect x="481.15" y="308.96" width="2.3" height="2.16"/>
<rect x="481.15" y="311.84" width="2.3" height="3.27"/>
<rect x="481.15" y="316.20" width="2.3" height="2.82"/>
<rect x="481.15" y="319.95" width="2.3" height="1.69"/>
<rect x="481.15" y="322.21" width="2.3" height="1.61"/>
<rect x="481.15" y="324.35" width="2.3" height="1.66"/>
<rect x="481.15" y="326.56" width="2.3" height="3.18"/>
<rect x="481.15" y="330.81" width="2.3" height="2.98"/>
<rect x="481.15" y="334.78" width="2.3" height="1.65"/>
<rect x="481.15" y="336.98" width="2.3" height="3.02"/>
<rect x="481.15" y="341.01" width="2.3" height="0.29"/>
<rect x="482.85" y="157.20" width="2.3" height="128.50"/>
<rect x="482.85" y="285.70" width="2.3" height="2.50"/>
<rect x="482.85" y="289.27" width="2.3" height="1.92"/>
<rect x="482.85" y="292.02" width="2.3" height="2.30"/>
<rect x="482.85" y="295.30" width="2.3" height="1.51"/>
<rect x="482.85" y="297.46" width="2.3" height="1.29"/>
<rect x="482.85" y="299.29" width="2.3" height="3.09"/>
<rect x="482.85" y="303.72" width="2.3" height="2.49"/>
<rect x="482.85" y="307.27" width="2.3" height="2.26"/>
<rect x="482.85" y="310.49" width="2.3" height="3.02"/>
<rect x="482.85" y="314.81" width="2.3" height="2.08"/>
<rect x="482.85" y="317.78" width="2.3" height="2.91"/>
<rect x="482.85" y="321.94" width="2.3" height="2.82"/>
<rect x="482.85" y="325.97" width="2.3" height="1.66"/>
<rect x="482.85" y="328.34" width="2.3" height="1.74"/>
<rect x="482.85" y="330.82" width="2.3" height="1.81"/>
<rect x="482.85" y="333.41" width="2.3" height="1.71"/>
<rect x="482.85" y="335.86" width="2.3" height="2.37"/>
<rect x="482.85" y="339.24" width="2.3" height="1.75"/>
<rect x="482.85" y="341.74" width="2.3" height="2.05"/>
<rect x="482.85" y="344.67" width="2.3" height="1.51"/>
<rect x="482.85" y="346.83" width="2.3" height="2.98"/>
<rect x="482.85" y="351.08" width="2.3" height="1.92"/>
<rect x="491.25" y="135.90" width="2.3" height="165.60"/>
<rect x="494.75" y="156.30" width="2.3" height="170.20"/>
<rect x="503.15" y="145.60" width="2.3" height="122.40"/>
<rect x="503.15" y="268.00" width="2.3" height="2.13"/>
<rect x="503.15" y="271.04" width="2.3" height="2.36"/>
<rect x="503.15" y="274.41" width="2.3" height="2.97"/>
<rect x="503.15" y="278.65" width="2.3" height="2.05"/>
<rect x="503.15" y="281.59" width="2.3" height="2.99"/>
<rect x="503.15" y="285.87" width="2.3" height="2.21"/>
<rect x="503.15" y="289.02" width="2.3" height="2.27"/>
<rect x="503.15" y="292.26" width="2.3" height="2.25"/>
<rect x="503.15" y="295.47" width="2.3" height="1.30"/>
<rect x="503.15" y="297.32" width="2.3" height="2.09"/>
<rect x="503.15" y="300.31" width="2.3" height="1.61"/>
<rect x="503.15" y="302.60" width="2.3" height="1.27"/>
<rect x="503.15" y="304.41" width="2.3" height="2.77"/>
<rect x="503.15" y="308.37" width="2.3" height="1.59"/>
<rect x="503.15" y="310.64" width="2.3" height="2.15"/>
<rect x="503.15" y="313.72" width="2.3" height="2.63"/>
<rect x="503.15" y="317.47" width="2.3" height="2.31"/>
<rect x="503.15" y="320.78" width="2.3" height="1.88"/>
<rect x="503.15" y="323.46" width="2.3" height="2.24"/>
<rect x="503.15" y="326.66" width="2.3" height="2.31"/>
<rect x="503.15" y="329.96" width="2.3" height="2.74"/>
<rect x="503.15" y="333.87" width="2.3" height="0.03"/>
<rect x="505.55" y="129.10" width="2.3" height="119.60"/>
<rect x="508.45" y="145.70" width="2.3" height="95.00"/>
<rect x="520.05" y="129.40" width="2.3" height="120.60"/>
<rect x="520.05" y="250.00" width="2.3" height="2.48"/>
<rect x="520.05" y="253.31" width="2.3" height="1.85"/>
<rect x="520.05" y="255.78" width="2.3" height="1.91"/>
<rect x="520.05" y="258.33" width="2.3" height="2.91"/>
<rect x="520.05" y="262.22" width="2.3" height="2.38"/>
<rect x="520.05" y="265.39" width="2.3" height="2.49"/>
<rect x="520.05" y="268.70" width="2.3" height="2.89"/>
<rect x="520.05" y="272.56" width="2.3" height="3.20"/>
<rect x="520.05" y="276.82" width="2.3" height="2.25"/>
<rect x="520.05" y="279.82" width="2.3" height="2.59"/>
<rect x="520.05" y="283.27" width="2.3" height="2.37"/>
<rect x="520.05" y="286.44" width="2.3" height="2.39"/>
<rect x="520.05" y="289.62" width="2.3" height="2.75"/>
<rect x="520.05" y="293.29" width="2.3" height="2.27"/>
<rect x="520.05" y="296.31" width="2.3" height="2.43"/>
<rect x="520.05" y="299.55" width="2.3" height="2.32"/>
<rect x="520.05" y="302.64" width="2.3" height="3.26"/>
<rect x="520.05" y="306.98" width="2.3" height="2.77"/>
<rect x="520.05" y="310.67" width="2.3" height="3.12"/>
<rect x="520.05" y="314.84" width="2.3" height="3.26"/>
<rect x="520.05" y="319.18" width="2.3" height="1.88"/>
<rect x="520.05" y="321.68" width="2.3" height="2.48"/>
<rect x="520.05" y="324.99" width="2.3" height="3.26"/>
<rect x="520.05" y="329.34" width="2.3" height="3.05"/>
<rect x="520.05" y="333.41" width="2.3" height="1.63"/>
<rect x="520.05" y="335.58" width="2.3" height="1.60"/>
<rect x="520.05" y="337.71" width="2.3" height="2.25"/>
<rect x="520.05" y="340.70" width="2.3" height="1.50"/>
<rect x="520.05" y="342.70" width="2.3" height="1.84"/>
<rect x="520.05" y="345.15" width="2.3" height="1.50"/>
<rect x="520.05" y="347.14" width="2.3" height="2.71"/>
<rect x="520.05" y="350.75" width="2.3" height="2.25"/>
<rect x="520.05" y="358.25" width="2.3" height="1.7"/>
<rect x="524.65" y="151.30" width="2.3" height="68.70"/>
<rect x="524.65" y="227.15" width="2.3" height="1.7"/>
<rect x="524.65" y="234.15" width="2.3" height="1.7"/>
<rect x="524.65" y="240.15" width="2.3" height="1.7"/>
<rect x="524.65" y="246.35" width="2.3" height="1.7"/>
<rect x="528.45" y="137.40" width="2.3" height="200.20"/>
<rect x="540.75" y="165.20" width="2.3" height="39.80"/>
<rect x="540.75" y="205.00" width="2.3" height="3.17"/>
<rect x="540.75" y="209.22" width="2.3" height="1.66"/>
<rect x="540.75" y="211.44" width="2.3" height="2.80"/>
<rect x="540.75" y="215.17" width="2.3" height="2.69"/>
<rect x="540.75" y="218.76" width="2.3" height="1.64"/>
<rect x="540.75" y="220.94" width="2.3" height="3.14"/>
<rect x="540.75" y="225.12" width="2.3" height="3.31"/>
<rect x="540.75" y="229.54" width="2.3" height="1.79"/>
<rect x="540.75" y="231.93" width="2.3" height="3.28"/>
<rect x="540.75" y="236.30" width="2.3" height="2.16"/>
<rect x="540.75" y="239.18" width="2.3" height="2.34"/>
<rect x="540.75" y="242.29" width="2.3" height="3.35"/>
<rect x="540.75" y="246.77" width="2.3" height="3.04"/>
<rect x="540.75" y="250.81" width="2.3" height="1.68"/>
<rect x="540.75" y="253.05" width="2.3" height="2.22"/>
<rect x="540.75" y="256.01" width="2.3" height="2.39"/>
<rect x="540.75" y="259.21" width="2.3" height="2.04"/>
<rect x="540.75" y="261.92" width="2.3" height="1.75"/>
<rect x="540.75" y="264.25" width="2.3" height="2.00"/>
<rect x="540.75" y="266.91" width="2.3" height="2.81"/>
<rect x="540.75" y="270.66" width="2.3" height="1.39"/>
<rect x="540.75" y="272.51" width="2.3" height="2.47"/>
<rect x="540.75" y="275.81" width="2.3" height="2.24"/>
<rect x="540.75" y="278.80" width="2.3" height="1.39"/>
<rect x="540.75" y="280.65" width="2.3" height="2.02"/>
<rect x="540.75" y="283.34" width="2.3" height="2.61"/>
<rect x="540.75" y="286.83" width="2.3" height="2.39"/>
<rect x="540.75" y="290.01" width="2.3" height="1.48"/>
<rect x="540.75" y="291.98" width="2.3" height="3.34"/>
<rect x="540.75" y="296.44" width="2.3" height="2.95"/>
<rect x="540.75" y="300.37" width="2.3" height="3.32"/>
<rect x="540.75" y="304.80" width="2.3" height="1.56"/>
<rect x="540.75" y="306.88" width="2.3" height="1.89"/>
<rect x="540.75" y="309.39" width="2.3" height="1.43"/>
<rect x="540.75" y="311.30" width="2.3" height="2.93"/>
<rect x="540.75" y="315.21" width="2.3" height="1.90"/>
<rect x="540.75" y="317.74" width="2.3" height="1.61"/>
<rect x="540.75" y="319.89" width="2.3" height="2.21"/>
<rect x="540.75" y="322.83" width="2.3" height="3.20"/>
<rect x="540.75" y="327.09" width="2.3" height="1.21"/>
<rect x="540.75" y="334.35" width="2.3" height="1.7"/>
<rect x="543.55" y="72.60" width="2.3" height="200.20"/>
<rect x="556.85" y="168.00" width="2.3" height="37.00"/>
<rect x="556.85" y="205.00" width="2.3" height="1.75"/>
<rect x="556.85" y="207.50" width="2.3" height="1.54"/>
<rect x="556.85" y="209.70" width="2.3" height="3.00"/>
<rect x="556.85" y="213.98" width="2.3" height="2.34"/>
<rect x="556.85" y="217.32" width="2.3" height="2.58"/>
<rect x="556.85" y="221.02" width="2.3" height="1.43"/>
<rect x="556.85" y="223.06" width="2.3" height="1.37"/>
<rect x="556.85" y="225.01" width="2.3" height="2.56"/>
<rect x="556.85" y="228.67" width="2.3" height="2.06"/>
<rect x="556.85" y="231.62" width="2.3" height="1.40"/>
<rect x="556.85" y="233.61" width="2.3" height="3.03"/>
<rect x="556.85" y="237.95" width="2.3" height="2.46"/>
<rect x="556.85" y="241.46" width="2.3" height="2.78"/>
<rect x="556.85" y="245.42" width="2.3" height="1.42"/>
<rect x="556.85" y="247.45" width="2.3" height="2.88"/>
<rect x="556.85" y="251.56" width="2.3" height="1.39"/>
<rect x="556.85" y="253.54" width="2.3" height="2.89"/>
<rect x="556.85" y="257.67" width="2.3" height="2.12"/>
<rect x="556.85" y="260.70" width="2.3" height="1.90"/>
<rect x="556.85" y="263.41" width="2.3" height="2.31"/>
<rect x="556.85" y="266.71" width="2.3" height="3.01"/>
<rect x="556.85" y="271.01" width="2.3" height="1.77"/>
<rect x="556.85" y="273.53" width="2.3" height="1.50"/>
<rect x="556.85" y="275.68" width="2.3" height="2.26"/>
<rect x="556.85" y="278.90" width="2.3" height="1.71"/>
<rect x="556.85" y="281.35" width="2.3" height="1.47"/>
<rect x="556.85" y="283.44" width="2.3" height="1.57"/>
<rect x="556.85" y="285.68" width="2.3" height="1.36"/>
<rect x="556.85" y="287.61" width="2.3" height="1.64"/>
<rect x="556.85" y="289.96" width="2.3" height="1.85"/>
<rect x="556.85" y="292.60" width="2.3" height="1.84"/>
<rect x="556.85" y="295.23" width="2.3" height="2.70"/>
<rect x="556.85" y="299.08" width="2.3" height="1.81"/>
<rect x="556.85" y="301.66" width="2.3" height="2.21"/>
<rect x="556.85" y="304.81" width="2.3" height="1.60"/>
<rect x="556.85" y="307.09" width="2.3" height="1.92"/>
<rect x="556.85" y="309.83" width="2.3" height="1.29"/>
<rect x="556.85" y="311.68" width="2.3" height="1.73"/>
<rect x="556.85" y="314.15" width="2.3" height="1.29"/>
<rect x="556.85" y="315.99" width="2.3" height="2.65"/>
<rect x="556.85" y="326.15" width="2.3" height="1.7"/>
<rect x="564.75" y="140.00" width="2.3" height="120.70"/>
<rect x="579.55" y="156.70" width="2.3" height="158.70"/>
<rect x="581.05" y="171.90" width="2.3" height="123.10"/>
<rect x="599.55" y="165.70" width="2.3" height="138.20"/>
<rect x="611.65" y="203.70" width="2.3" height="82.00"/>
<rect x="611.65" y="285.70" width="2.3" height="1.97"/>
<rect x="611.65" y="288.99" width="2.3" height="1.39"/>
<rect x="611.65" y="291.30" width="2.3" height="1.85"/>
<rect x="611.65" y="294.38" width="2.3" height="2.59"/>
<rect x="611.65" y="298.70" width="2.3" height="1.25"/>
<rect x="611.65" y="300.79" width="2.3" height="2.41"/>
<rect x="611.65" y="304.80" width="2.3" height="1.78"/>
<rect x="611.65" y="307.77" width="2.3" height="1.13"/>
</g>
<rect x="383.8" y="5.2" width="292.70" height="504.30" fill="none" stroke="#a6a6a6" stroke-width="1.5"/>
<text class="t" transform="translate(379.50,513.46) scale(1.05,1)" text-anchor="end">-3</text>
<line x1="383.8" y1="425.86" x2="389.1" y2="425.86" stroke="#a8a8a8" stroke-width="1.2"/>
<line x1="676.5" y1="425.86" x2="671.2" y2="425.86" stroke="#a8a8a8" stroke-width="1.2"/>
<text class="t" transform="translate(379.50,429.16) scale(1.05,1)" text-anchor="end">-2</text>
<line x1="383.8" y1="341.56" x2="389.1" y2="341.56" stroke="#a8a8a8" stroke-width="1.2"/>
<line x1="676.5" y1="341.56" x2="671.2" y2="341.56" stroke="#a8a8a8" stroke-width="1.2"/>
<text class="t" transform="translate(379.50,344.86) scale(1.05,1)" text-anchor="end">-1</text>
<line x1="383.8" y1="257.26" x2="389.1" y2="257.26" stroke="#a8a8a8" stroke-width="1.2"/>
<line x1="676.5" y1="257.26" x2="671.2" y2="257.26" stroke="#a8a8a8" stroke-width="1.2"/>
<text class="t" transform="translate(379.50,260.56) scale(1.05,1)" text-anchor="end">0</text>
<line x1="383.8" y1="172.96" x2="389.1" y2="172.96" stroke="#a8a8a8" stroke-width="1.2"/>
<line x1="676.5" y1="172.96" x2="671.2" y2="172.96" stroke="#a8a8a8" stroke-width="1.2"/>
<text class="t" transform="translate(379.50,176.26) scale(1.05,1)" text-anchor="end">1</text>
<line x1="383.8" y1="88.66" x2="389.1" y2="88.66" stroke="#a8a8a8" stroke-width="1.2"/>
<line x1="676.5" y1="88.66" x2="671.2" y2="88.66" stroke="#a8a8a8" stroke-width="1.2"/>
<text class="t" transform="translate(379.50,91.96) scale(1.05,1)" text-anchor="end">2</text>
<text class="t" transform="translate(379.50,7.66) scale(1.05,1)" text-anchor="end">3</text>
<text class="t" transform="translate(383.76,521.90) scale(1.05,1)" text-anchor="middle">0</text>
<line x1="481.50" y1="509.5" x2="481.50" y2="504.0" stroke="#a8a8a8" stroke-width="1.2"/>
<line x1="481.50" y1="5.2" x2="481.50" y2="10.7" stroke="#a8a8a8" stroke-width="1.2"/>
<text class="t" transform="translate(481.20,521.90) scale(1.05,1)" text-anchor="middle">50</text>
<line x1="578.94" y1="509.5" x2="578.94" y2="504.0" stroke="#a8a8a8" stroke-width="1.2"/>
<line x1="578.94" y1="5.2" x2="578.94" y2="10.7" stroke="#a8a8a8" stroke-width="1.2"/>
<text class="t" transform="translate(578.64,521.90) scale(1.05,1)" text-anchor="middle">100</text>
<text class="t" transform="translate(676.08,521.90) scale(1.05,1)" text-anchor="middle">150</text>
<text class="u" transform="translate(672.60,146.70) scale(1.05,1)" text-anchor="end">ULOA</text>
<text class="u" transform="translate(672.30,239.80) scale(1.05,1)" text-anchor="end">Bias</text>
<text class="u" transform="translate(671.90,333.50) scale(1.05,1)" text-anchor="end">LLOA</text>
<text class="xl" transform="translate(530.45,534.60) scale(1.05,1)" text-anchor="middle">GOM Measured Distance (mm)</text>
<text class="yl" transform="translate(366.00,257.20) scale(1.05,1) rotate(-90)" text-anchor="middle">Performance Infill Tracking - GOM Measured Difference (mm)</text>
<text class="pl" transform="translate(1.7,535.7) scale(0.95,1)">a)</text>
<text class="pl" transform="translate(359.60,534.50) scale(1.05,1)" text-anchor="start">b)</text>
</svg>
</body></html>
